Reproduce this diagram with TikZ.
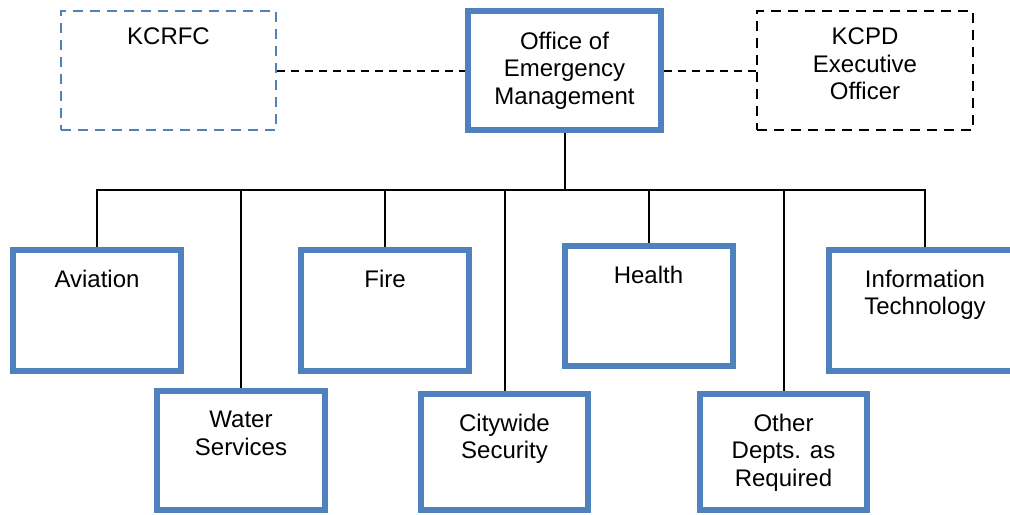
\documentclass[tikz,border=0pt]{standalone}
\usepackage{fontspec}
\setmainfont{Liberation Sans}
\usepackage{tikz}
\usetikzlibrary{calc}
\definecolor{oemblue}{HTML}{4F81BD}

\begin{document}
\begin{tikzpicture}[x=0.5pt, y=-0.5pt,
  every node/.style={font=\fontsize{12}{13.8}\selectfont},
  dept/.style={draw=oemblue, line width=3pt, minimum width=84pt, minimum height=60.5pt, inner sep=0pt},
  partner/.style={draw, line width=1pt, dash pattern=on 5pt off 3.5pt, minimum width=108pt, minimum height=59.5pt, inner sep=0pt},
  txt/.style={anchor=north, align=center, inner sep=0pt, yshift=-11.25pt},
  tree/.style={line width=1pt},
  link/.style={line width=1pt, dash pattern=on 4pt off 3pt}]
\useasboundingbox (0,0) rectangle (1010,514);
\clip (0,0) rectangle (1010,514);
%% --- Top row ---
\node[dept, minimum width=96.5pt, minimum height=59.5pt,
  label={[txt, yshift=-0.5pt]north:Office of\\Emergency\\Management}] (oem) at (564.5,70.5) {};
\node[partner, draw=oemblue, minimum width=107.5pt,
  label={[txt, yshift=2.5pt]north:KCRFC}] (kcrfc) at (168.5,70.5) {};
\node[partner, draw=black,
  label={[txt, yshift=2.5pt]north:KCPD\\Executive\\Officer}] (kcpd) at (865,70.5) {};
\draw[link] (kcrfc.east) -- (oem.west);
\draw[link] (oem.east) -- (kcpd.west);
%% --- Departments ---
\node[dept, label={[txt]north:Aviation}] (avi) at (97,310.5) {};
\node[dept, label={[txt]north:Fire}] (fire) at (385,310.5) {};
\node[dept, minimum height=60pt, label={[txt]north:Health}] (health) at (648.5,306) {};
\node[dept, minimum width=96pt, label={[txt]north:Information\\Technology}] (it) at (925,310.5) {};
\node[dept, minimum height=59.5pt, label={[txt]north:Water\\Services}] (water) at (241,450.5) {};
\node[dept, minimum width=83.5pt, minimum height=58pt, label={[txt]north:Citywide\\Security}] (city) at (504.5,452) {};
\node[dept, minimum width=83.5pt, minimum height=58pt, label={[txt]north:Other\\Depts. as\\Required}] (other) at (783.5,452) {};
%% --- Tree ---
\coordinate (bus) at (564.5,190);
\foreach \c in {avi,water,fire,city,health,other,it}
  \draw[tree] (oem.south) -- (bus) -| (\c.north);
\end{tikzpicture}
\end{document}
